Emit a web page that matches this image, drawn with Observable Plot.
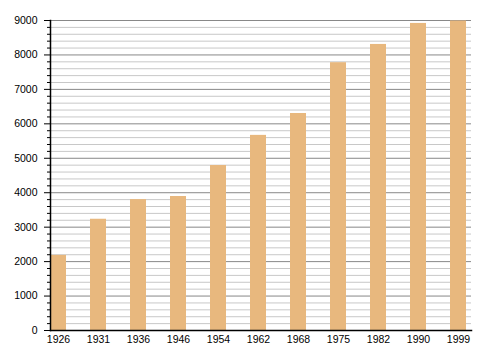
<!DOCTYPE html>
<html>
<head>
<meta charset="utf-8">
<script src="https://cdn.jsdelivr.net/npm/d3@7"></script>
<script src="https://cdn.jsdelivr.net/npm/@observablehq/plot@0.6"></script>
<style>
  html, body { margin: 0; padding: 0; background: #fff; }
</style>
</head>
<body>
<div id="chart"></div>
<script>
const years = ["1926", "1931", "1936", "1946", "1954", "1962", "1968", "1975", "1982", "1990", "1999"];
const population = [2180, 3230, 3800, 3890, 4790, 5665, 6300, 7775, 8305, 8915, 8985];
const majorTicks = [0, 1000, 2000, 3000, 4000, 5000, 6000, 7000, 8000, 9000];
const minorTicks = d3.range(0, 9001, 200).filter(v => v % 1000 !== 0);

const data = years.map((y, i) => ({year: y, value: population[i]}));

const chart = Plot.plot({
  width: 480,
  height: 360,
  marginLeft: 50,
  marginRight: 9,
  marginTop: 20,
  marginBottom: 30,
  style: {fontFamily: "'Liberation Sans', Arial, sans-serif", fontSize: "10.5px", color: "#000", background: "#fff"},
  x: {domain: years, paddingInner: 0.6, paddingOuter: 0, align: 0, label: null},
  y: {domain: [0, 9000], label: null},
  marks: [
    Plot.ruleY(minorTicks, {stroke: "#c8c8c8", strokeWidth: 1}),
    Plot.ruleY(majorTicks, {stroke: "#888", strokeWidth: 1}),
    Plot.barY(data, {x: "year", y: "value", fill: "#e8b87e"}),
    Plot.axisY(majorTicks, {tickSize: 6, tickPadding: 7, tickFormat: d3.format("d"), stroke: "#000", strokeOpacity: 1, label: null}),
    Plot.axisY(minorTicks, {tickSize: 3, tickFormat: () => "", stroke: "#000", strokeOpacity: 1, label: null}),
    Plot.axisX({tickSize: 0, tickPadding: 5, label: null}),
    Plot.frame({anchor: "left", stroke: "#000", strokeWidth: 1.5}),
    Plot.frame({anchor: "bottom", stroke: "#000", strokeWidth: 1.5})
  ]
});
document.getElementById("chart").appendChild(chart);
</script>
</body>
</html>
